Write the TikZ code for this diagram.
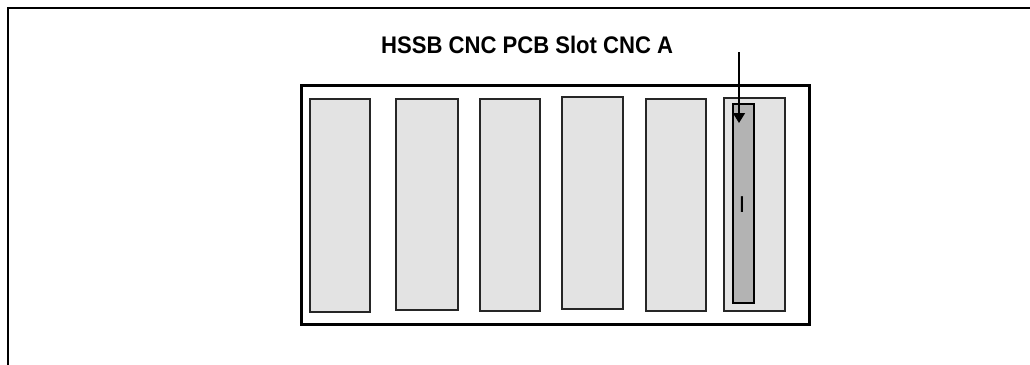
\documentclass[tikz,border=0pt]{standalone}
\usepackage{fontspec}
\setmainfont{Liberation Sans}
\usetikzlibrary{arrows.meta}
\definecolor{slotgray}{HTML}{E3E3E3}
\definecolor{cardgray}{HTML}{B3B3B3}
\tikzset{
  frame/.style={draw=black, line width=2.8pt},
  slotbox/.style={draw=black!85, line width=2pt, fill=slotgray},
  cardbox/.style={draw=black, line width=2pt, fill=cardgray},
  pointer/.style={draw=black, line width=1.5pt, -{Triangle[length=10pt,width=12pt]}},
  titletext/.style={font=\bfseries\fontsize{24}{27}\selectfont, inner sep=0pt},
}
\begin{document}
\begin{tikzpicture}[x=1pt,y=-1pt]
\useasboundingbox (0,0) rectangle (1030,364);
\clip (0,0) rectangle (1030,364);
% outer frame (continues past the page edge)
\draw[frame] (8,8) rectangle (1050,390);
% chassis
\node[frame, minimum width=508pt, minimum height=239pt, inner sep=0pt, anchor=north west] (chassis) at (300,84) {};
% slots
\node[slotbox, anchor=north west, minimum width=60pt, minimum height=213pt, inner sep=0pt] (s1) at (309,98) {};
\node[slotbox, anchor=north west, minimum width=62pt, minimum height=211pt, inner sep=0pt] (s2) at (395,98) {};
\node[slotbox, anchor=north west, minimum width=60pt, minimum height=212pt, inner sep=0pt] (s3) at (479,98) {};
\node[slotbox, anchor=north west, minimum width=61pt, minimum height=212pt, inner sep=0pt] (s4) at (561,96) {};
\node[slotbox, anchor=north west, minimum width=60pt, minimum height=212pt, inner sep=0pt] (s5) at (645,98) {};
\node[slotbox, anchor=north west, minimum width=61pt, minimum height=213pt, inner sep=0pt] (s6) at (723,97) {};
% card
\node[cardbox, anchor=north west, minimum width=21pt, minimum height=199pt, inner sep=0pt] (card) at (732,103) {};
\node[font=\fontsize{23}{26}\selectfont, inner sep=0pt] (cardlabel) at (742,205) {I};
% title
\node[titletext, anchor=west] (title) at (381,45) {\scalebox{0.92}[1]{HSSB CNC PCB Slot CNC A}};
% pointer
\coordinate (ptrstart) at (739,52);
\coordinate (ptrend) at (739,123);
\draw[pointer] (ptrstart) -- (ptrend);
\end{tikzpicture}
\end{document}
